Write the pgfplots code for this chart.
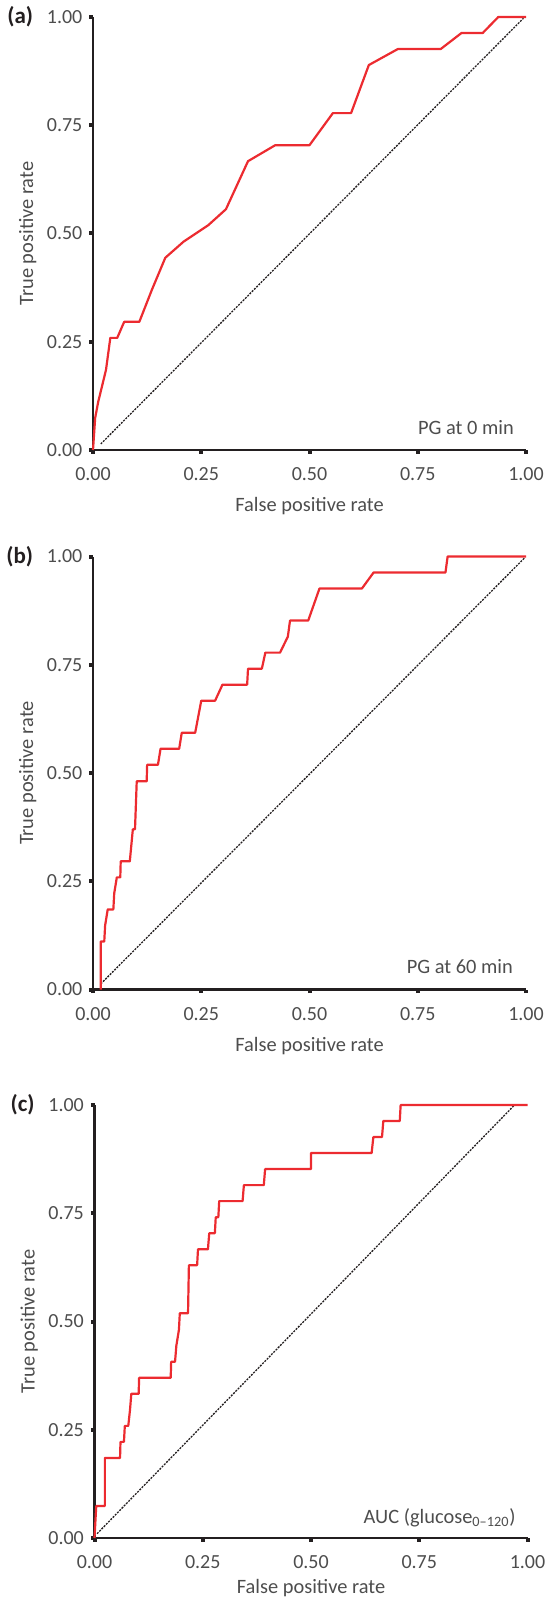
\documentclass[border=0pt]{standalone}
\usepackage{fontspec}
\setmainfont{Carlito}
\usepackage{pgfplots}
\pgfplotsset{compat=1.18}
\definecolor{rocred}{HTML}{EC2B30}
\definecolor{txtgray}{HTML}{4D4D4D}
\definecolor{axblack}{HTML}{231F20}

\pgfplotsset{
  rocpanel/.style={
    scale only axis,
    width=216.5pt, height=216.5pt,
    anchor=north west,
    xmin=0, xmax=1, ymin=0, ymax=1,
    axis lines=left,
    axis line style={-, draw=axblack, line width=1.3pt},
    xtick={0,0.25,0.5,0.75,1}, ytick={0,0.25,0.5,0.75,1},
    tick align=outside,
    major tick length=1.8pt,
    tick style={draw=axblack, line width=2pt},
    minor tick num=0,
    /pgf/number format/.cd, fixed, fixed zerofill, precision=2, assume math mode=true,
    /pgfplots/.cd,
    tick label style={font=\fontsize{10}{12}\selectfont, text=txtgray},
    xticklabel style={yshift=-3.5pt},
    xlabel={False positive rate},
    ylabel={True positive rate},
    label style={font=\fontsize{10.2}{12}\selectfont, text=txtgray},
    xlabel style={at={(axis description cs:0.5,-0.1305)}, anchor=center},
    ylabel style={at={(axis description cs:-0.151,0.5)}, anchor=center},
    clip=false,
  },
}
\tikzset{
  roc/.style={rocred, line width=1.1pt, line join=round},
  chance/.style={axblack, line width=0.65pt, dash pattern=on 1pt off 0.6pt},
  panellabel/.style={anchor=base east, font=\fontsize{11.5}{12}\selectfont\bfseries, text=axblack},
  note/.style={anchor=base east, font=\fontsize{10.2}{12}\selectfont, text=txtgray},
}

\begin{document}
\begin{tikzpicture}
\path[use as bounding box] (0,0) rectangle (276pt,-799.5pt);

% (a) PG at 0 min
\begin{axis}[rocpanel, at={(46.5pt,-8.5pt)}]
\addplot[chance] coordinates {(0.018,0.014) (0.994,0.997)};
\addplot[roc] coordinates {
  (0,0) (0.005,0.074) (0.012,0.111) (0.030,0.185) (0.040,0.259)
  (0.056,0.259) (0.072,0.296) (0.107,0.296) (0.136,0.370) (0.167,0.444)
  (0.209,0.481) (0.266,0.519) (0.307,0.556) (0.358,0.667) (0.421,0.704)
  (0.500,0.704) (0.554,0.778) (0.596,0.778) (0.637,0.889) (0.704,0.926)
  (0.803,0.926) (0.851,0.963) (0.900,0.963) (0.936,1.0) (1.0,1.0)
};
\node[note] at (axis cs:0.988,0.035) {PG at 0 min};
\node[panellabel] at (axis description cs:-0.122,0.984) {(a)};
\end{axis}

% (b) PG at 60 min
\begin{axis}[rocpanel, at={(46.5pt,-278.25pt)}]
\addplot[chance] coordinates {(0.018,0.013) (0.996,0.996)};
\addplot[roc] coordinates {
  (0.018,0) (0.018,0.111) (0.026,0.111) (0.028,0.148) (0.034,0.185)
  (0.047,0.185) (0.049,0.222) (0.055,0.259) (0.063,0.259) (0.064,0.296)
  (0.085,0.296) (0.092,0.370) (0.097,0.370) (0.101,0.481) (0.124,0.481)
  (0.125,0.519) (0.150,0.519) (0.156,0.556) (0.199,0.556) (0.205,0.593)
  (0.236,0.593) (0.250,0.667) (0.282,0.667) (0.299,0.704) (0.356,0.704)
  (0.358,0.741) (0.390,0.741) (0.398,0.778) (0.432,0.778) (0.450,0.815)
  (0.455,0.852) (0.497,0.852) (0.523,0.926) (0.621,0.926) (0.648,0.963)
  (0.814,0.963) (0.819,1.0) (1.0,1.0)
};
\node[note] at (axis cs:0.986,0.036) {PG at 60 min};
\node[panellabel] at (axis description cs:-0.122,0.984) {(b)};
\end{axis}

% (c) AUC glucose 0-120
\begin{axis}[rocpanel, at={(47.25pt,-552.5pt)},
  xlabel style={at={(axis description cs:0.5,-0.1166)}}]
\addplot[chance] coordinates {(0.006,0.010) (0.970,1.0)};
\addplot[roc] coordinates {
  (0,0) (0.002,0.037) (0.004,0.074) (0.024,0.074) (0.024,0.185)
  (0.059,0.185) (0.060,0.222) (0.068,0.222) (0.070,0.259) (0.078,0.259)
  (0.082,0.296) (0.085,0.333) (0.102,0.333) (0.103,0.370) (0.176,0.370)
  (0.177,0.407) (0.186,0.407) (0.189,0.444) (0.195,0.481) (0.197,0.519)
  (0.216,0.519) (0.218,0.630) (0.237,0.630) (0.239,0.667) (0.262,0.667)
  (0.265,0.704) (0.278,0.704) (0.280,0.741) (0.286,0.741) (0.288,0.778)
  (0.342,0.778) (0.345,0.815) (0.391,0.815) (0.394,0.852) (0.500,0.852)
  (0.500,0.889) (0.640,0.889) (0.644,0.926) (0.664,0.926) (0.667,0.963)
  (0.705,0.963) (0.707,1.0) (1.0,1.0)
};
\node[note] at (axis cs:0.989,0.034) {AUC (glucose\textsubscript{0–120})};
\node[panellabel] at (axis description cs:-0.122,0.984) {(c)};
\end{axis}
\end{tikzpicture}
\end{document}
